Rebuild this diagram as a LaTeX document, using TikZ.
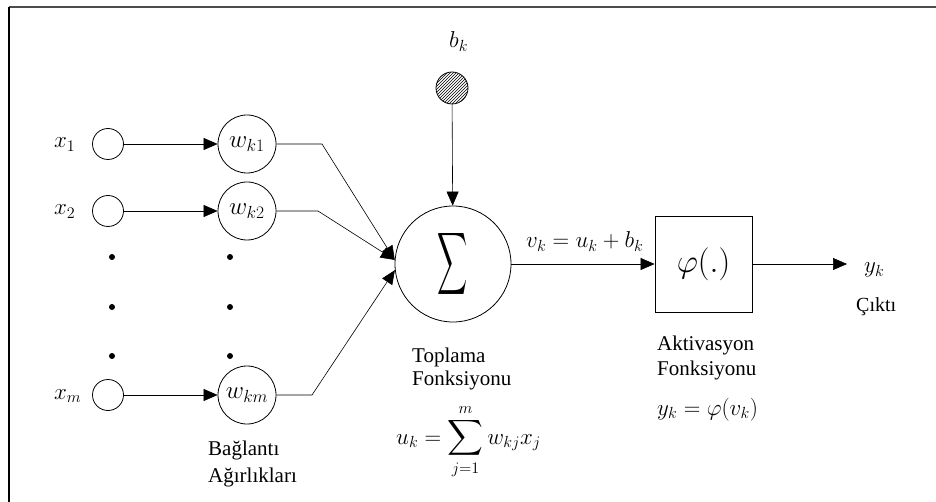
\RequirePackage{fix-cm}
\documentclass[tikz,border=0pt]{standalone}
\usepackage{amsmath}
\usepackage{fontspec}
\setmainfont{Liberation Serif}
\usetikzlibrary{arrows.meta,patterns}
\begin{document}
\begin{tikzpicture}[x=1pt,y=-1pt,
 inp/.style={circle,draw,line width=0.8pt,minimum size=31pt,inner sep=0pt},
 wnode/.style={circle,draw,line width=0.8pt,minimum size=58pt,inner sep=0pt,font=\fontsize{25}{27}\selectfont},
 conn/.style={line width=0.6pt,-{Triangle[length=14pt,width=12pt]}},
 lbl/.style={font=\fontsize{21}{23}\selectfont,inner sep=0pt,anchor=base west},
 mth/.style={font=\fontsize{23}{25}\selectfont,inner sep=0pt,anchor=base west},
 dotn/.style={circle,fill,minimum size=6pt,inner sep=0pt}]
\useasboundingbox (0,0) rectangle (936,502);
\draw[line width=2pt,black!70] (9,7) -- (936,7);
\draw[line width=2pt] (9,7) -- (9,502);

% inputs
\node[inp] (x1) at (108,144) {};
\node[inp] (x2) at (108,211) {};
\node[inp] (xm) at (108,395) {};
\node[mth] (lx1) at (54,148) {$x_1$};
\node[mth] (lx2) at (54,215) {$x_2$};
\node[mth] (lxm) at (54,399) {$x_m$};

% weights
\node[wnode] (w1) at (247,144) {$w_{k1}$};
\node[wnode] (w2) at (247,211) {$w_{k2}$};
\node[wnode] (wm) at (247,395) {$w_{km}$};

% dots
\node[dotn] (d1) at (112,257) {};
\node[dotn] (d2) at (112,307) {};
\node[dotn] (d3) at (112,356) {};
\node[dotn] (d4) at (230,257) {};
\node[dotn] (d5) at (230,307) {};
\node[dotn] (d6) at (230,356) {};

% summation
\node[circle,draw,line width=0.8pt,minimum size=116pt,inner sep=0pt] (sig) at (453,264) {\scalebox{0.84}[1.75]{\fontsize{30}{30}\selectfont$\displaystyle\sum$}};

% bias
\node[circle,draw,line width=0.8pt,minimum size=32pt,inner sep=0pt,pattern=north east lines] (bias) at (452,88) {};
\node[mth] (lb) at (449,48) {$b_k$};

% activation box
\node[draw,line width=0.8pt,minimum width=97pt,minimum height=96pt,inner sep=0pt,font=\fontsize{33}{36}\selectfont] (phi) at (703.5,264) {$\varphi(.)$};
\coordinate (yout) at (847,264);
\node[mth] (ly) at (864,273) {$y_k$};

% connectors
\draw[conn] (x1) -- (w1);
\draw[conn] (x2) -- (w2);
\draw[conn] (xm) -- (wm);
\coordinate (b1) at (322,144);
\coordinate (b2) at (318,211);
\coordinate (bm) at (312,395);
\draw[conn] (w1.east) -- (b1) -- (sig.176);
\draw[conn] (w2.east) -- (b2) -- (sig.176);
\draw[conn] (wm.east) -- (bm) -- (sig.186);
\draw[conn] (bias) -- (sig);
\draw[conn] (sig) -- (phi);
\draw[conn] (phi) -- (yout);

% labels
\node[mth] (lv) at (526,248) {$v_k = u_k + b_k$};
\node[lbl] (t1) at (412,362) {Toplama};
\node[lbl] (t2) at (412,385) {Fonksiyonu};
\node[mth] (lu) at (396,444) {$u_k = \displaystyle\sum_{j=1}^{m} w_{kj}x_j$};
\node[lbl] (a1) at (657,350) {Aktivasyon};
\node[lbl] (a2) at (657,375) {Fonksiyonu};
\node[mth] (ly2) at (657,415) {$y_k = \varphi(v_k)$};
\node[lbl,font=\fontsize{20}{22}\selectfont] (c1) at (856,312) {Çıktı};
\node[lbl] (g1) at (208,455) {Bağlantı};
\node[lbl] (g2) at (208,482) {Ağırlıkları};
\end{tikzpicture}
\end{document}
